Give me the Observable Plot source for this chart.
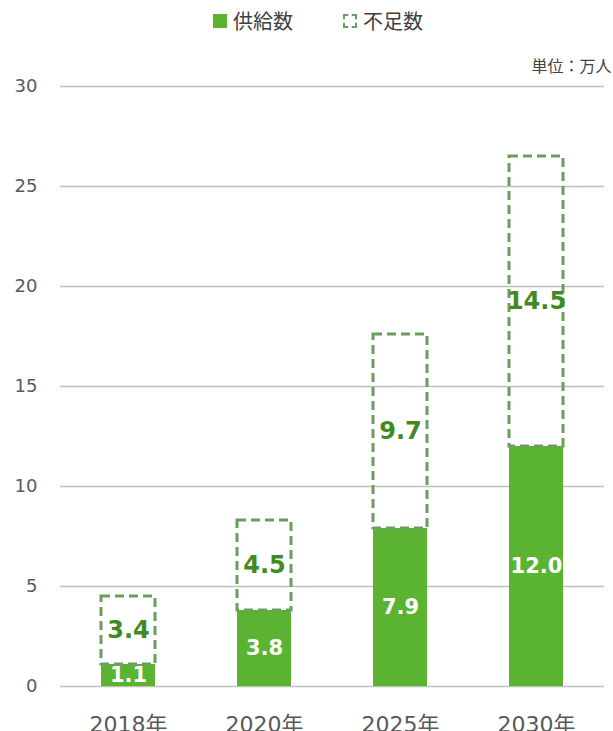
<!DOCTYPE html>
<html><head><meta charset="utf-8">
<script src="https://cdn.jsdelivr.net/npm/d3@7"></script>
<script src="https://cdn.jsdelivr.net/npm/@observablehq/plot@0.6"></script>
<style>
body{margin:0;background:#fff;font-family:"DejaVu Sans","Noto Sans CJK JP",sans-serif;}
#legend{height:40px;position:relative;font-family:"Noto Sans CJK JP",sans-serif;font-size:20px;color:#404040;}
.item{position:absolute;top:8px;display:flex;align-items:center;line-height:26px;}
.sw{width:14px;height:14px;margin-right:6px;box-sizing:border-box;}
</style></head><body>
<div id="legend">
  <div class="item" style="left:213px"><div class="sw" style="background:#5ab431"></div>供給数</div>
  <div class="item" style="left:343px"><div class="sw" style="border:2.5px dashed #6a9e5e;width:14px;height:14px"></div>不足数</div>
</div>
<div id="chart"></div>
<script>
const years = ["2018年","2020年","2025年","2030年"];
const supply = [1.1, 3.8, 7.9, 12.0];
const shortage = [3.4, 4.5, 9.7, 14.5];
const yTicks = [0,5,10,15,20,25,30];

const data = years.map((y,i)=>({year:y, supply:supply[i], shortage:shortage[i], total:supply[i]+shortage[i]}));

const chart = Plot.plot({
  width: 613,
  height: 706,
  marginTop: 46,
  marginBottom: 60,
  marginLeft: 60,
  marginRight: 9,
  style: {fontFamily: '"DejaVu Sans","Noto Sans CJK JP",sans-serif', color:"#595959", overflow:"visible"},
  x: {domain: years, paddingInner: 0.6, paddingOuter: 0.3, label: null},
  y: {domain: [0,30], ticks: yTicks, label: null},
  marks: [
    Plot.gridY(yTicks, {stroke:"#bfbfbf", strokeOpacity:1, strokeWidth:1.5}),
    Plot.axisY(yTicks, {tickSize:0, tickPadding:23, fontSize:18, fill:"#595959", textAnchor:"end"}),
    Plot.axisX({tickSize:0, tickPadding:30, fontSize:22, fill:"#595959", fontFamily:'"DejaVu Sans","Noto Sans CJK JP",sans-serif'}),
    Plot.barY(data, {x:"year", y1:0, y2:"supply", fill:"#5ab431"}),
    Plot.barY(data, {x:"year", y1:"supply", y2:"total", fill:"none", stroke:"#6a9e5e", strokeWidth:3, strokeDasharray:"9,5"}),
    Plot.text(data, {x:"year", y:d=>d.supply/2, text:d=>d.supply.toFixed(1), fill:"white", fontWeight:"bold", fontSize:21}),
    Plot.text(data, {x:"year", y:d=>d.supply+d.shortage/2, text:d=>d.shortage.toFixed(1), fill:"#3f8a22", fontWeight:"bold", fontSize:24}),
    Plot.text(["単位：万人"], {frameAnchor:"top-right", dx:7, dy:-26, fontSize:16, fill:"#404040", fontFamily:'"Noto Sans CJK JP",sans-serif'})
  ]
});
document.getElementById("chart").appendChild(chart);
</script>
</body></html>
